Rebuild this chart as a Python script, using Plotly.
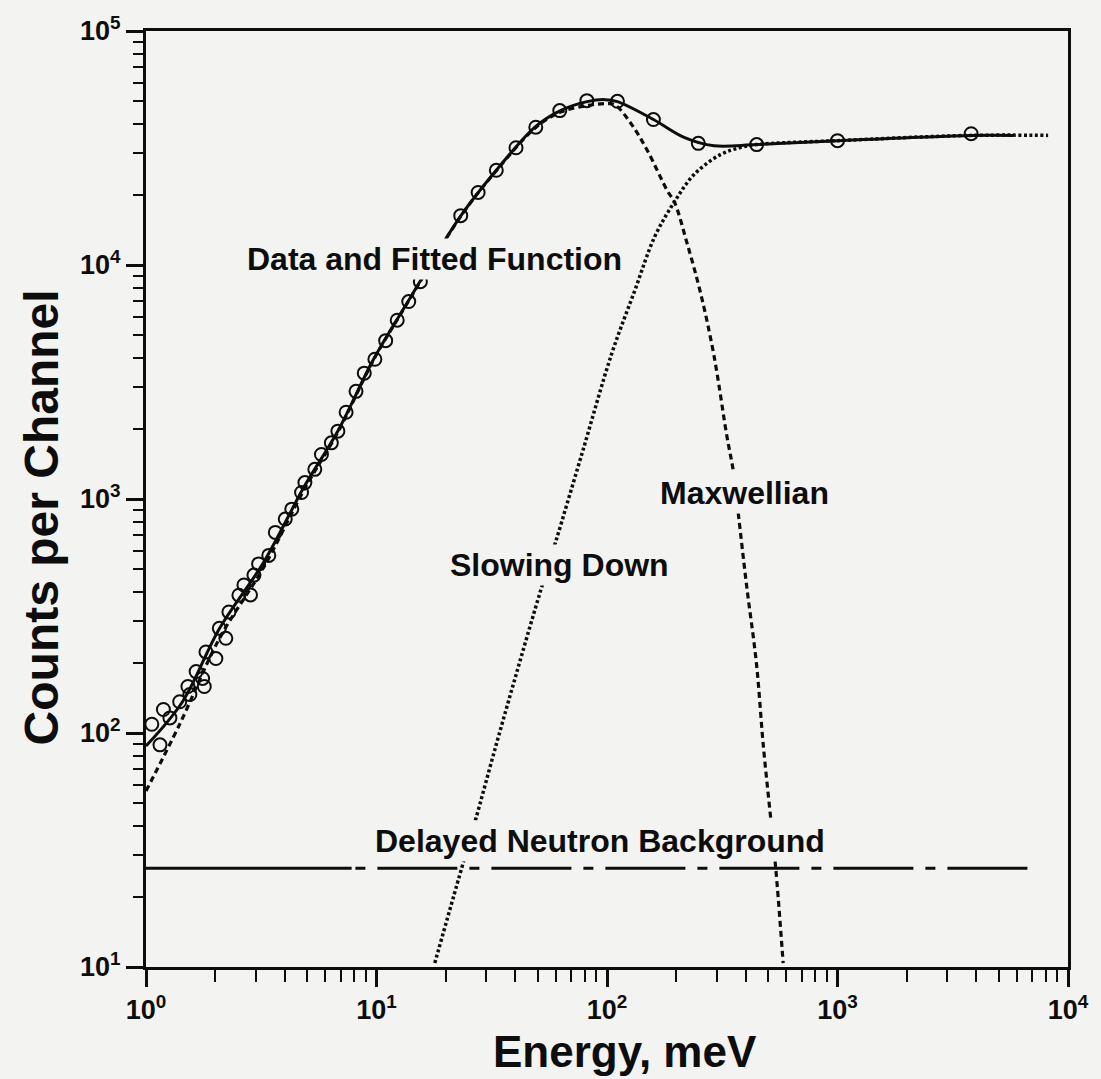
import plotly.graph_objects as go

# ---- measured spectrum (energy in meV, counts per channel) ----
data_energy = [1.06, 1.15, 1.19, 1.27, 1.40, 1.52, 1.55, 1.65, 1.76, 1.79, 1.82, 2.01,
               2.08, 2.22, 2.29, 2.53, 2.66, 2.84, 2.94, 3.08, 3.41, 3.64, 4.02, 4.29,
               4.73, 4.89, 5.40, 5.77, 6.37, 6.80, 7.38, 8.15, 8.85, 9.84, 10.96, 12.3,
               13.8, 15.5, 23.2, 27.6, 33.1, 40.3, 49.1, 62.4, 81.8, 111, 159, 249,
               446, 1000, 3800]
data_counts = [109, 89, 126, 116, 136, 158, 146, 183, 171, 158, 222, 208,
               280, 254, 329, 388, 429, 389, 473, 528, 574, 720, 821, 905,
               1066, 1175, 1339, 1550, 1738, 1950, 2348, 2884, 3450, 3956, 4750, 5810,
               6980, 8490, 16250, 20420, 25400, 31700, 38800, 45700, 50400, 50060, 41850, 33100,
               32700, 34000, 36400]

# ---- fitted total ----
fit_energy = [1.0, 1.44, 2.08, 3.24, 4.86, 6.80, 9.71, 13.7, 23.2, 33.1, 49.1, 62.8,
              82, 98, 111, 159, 216, 291, 445, 1000, 3800, 5800]
fit_counts = [88, 136, 279, 537, 1130, 1954, 3956, 6980, 16200, 25400, 39100, 45700,
              49900, 50900, 49900, 41850, 35100, 32300, 32700, 34000, 35800, 35800]

# ---- Maxwellian component ----
maxw_energy = [1.0, 1.40, 2.08, 3.24, 4.86, 6.80, 9.71, 13.7, 23.2, 33.1, 49.1, 62.8,
               82, 98, 108, 128, 150, 183, 196, 223, 255, 291, 331, 354, 372, 403,
               445, 476, 516, 542, 581]
maxw_counts = [56.5, 109, 253, 511, 1100, 1930, 3930, 6950, 16150, 25300, 38700, 45000,
               48000, 48900, 48400, 39800, 30700, 20700, 18600, 12300, 7550, 4110, 1862,
               1297, 851, 429, 198, 89.5, 40.9, 25.1, 10.4]

# ---- slowing-down component ----
slow_energy = [17.9, 23.4, 26.6, 33.1, 41.5, 51.6, 59.8, 78.1, 105, 132, 161, 196,
               239, 312, 380, 445, 1000, 3800, 8200]
slow_counts = [10.4, 26.4, 40.9, 89.5, 196, 408, 653, 1578, 4200, 7780, 13200, 18600,
               24400, 29700, 31800, 32700, 34000, 35800, 35800]

# ---- delayed neutron background ----
bg_level = 26.4
bg_solid_energy = [1.0, 7.8]
bg_dash_energy = [8.1, 7080]

# ---- axis ticks ----
decades = [1, 10, 100, 1000, 10000]
x_tick_text = ["10<sup>0</sup>", "10<sup>1</sup>", "10<sup>2</sup>", "10<sup>3</sup>", "10<sup>4</sup>"]
y_decades = [10, 100, 1000, 10000, 100000]
y_tick_text = ["10<sup>1</sup>", "10<sup>2</sup>", "10<sup>3</sup>", "10<sup>4</sup>", "10<sup>5</sup>"]

PAPER = "#f3f3f1"
INK = "#0d0d0d"
FONT = "Liberation Sans"

W, H = 1101, 1079
L, R, T, B = 146, 24, 26, 112
pw, ph = W - L - R, H - T - B


def to_paper(px, py):
    """Page pixel position -> paper fraction of the plot area."""
    return (px - L) / pw, 1 - (py - T) / ph


x_minor = [m * d for d in decades[:-1] for m in range(2, 10)]
y_minor = [m * d for d in y_decades[:-1] for m in range(2, 10)]

fig = go.Figure()

fig.add_trace(go.Scatter(x=bg_solid_energy, y=[bg_level, bg_level],
                         mode="lines", line=dict(color=INK, width=3), hoverinfo="skip"))
fig.add_trace(go.Scatter(x=bg_dash_energy, y=[bg_level, bg_level], mode="lines",
                         line=dict(color=INK, width=3, dash="10px,12px,80px,12px"),
                         hoverinfo="skip"))
fig.add_trace(go.Scatter(x=maxw_energy, y=maxw_counts, mode="lines",
                         line=dict(color=INK, width=3.2, dash="6px,4px", shape="spline"),
                         hoverinfo="skip"))
fig.add_trace(go.Scatter(x=slow_energy, y=slow_counts, mode="lines",
                         line=dict(color=INK, width=3.5, dash="3px,2.5px", shape="spline"),
                         hoverinfo="skip"))
fig.add_trace(go.Scatter(x=fit_energy, y=fit_counts, mode="lines",
                         line=dict(color=INK, width=3, shape="spline"), hoverinfo="skip"))
fig.add_trace(go.Scatter(x=data_energy, y=data_counts, mode="markers",
                         marker=dict(symbol="circle-open", size=13, color=INK,
                                     line=dict(width=2, color=INK)),
                         hoverinfo="skip"))

label_font = dict(family=FONT, size=32, color=INK, weight="bold")
labels = [
    ("Data and Fitted Function", 437, 255),
    ("Maxwellian", 750, 490),
    ("Slowing Down", 564, 563),
    ("Delayed Neutron Background", 604, 840),
]
for text, px, py in labels:
    ax, ay = to_paper(px, py)
    fig.add_annotation(text=text, x=ax, y=ay, xref="paper", yref="paper",
                       showarrow=False, font=label_font, bgcolor=PAPER, borderpad=2,
                       xanchor="center", yanchor="middle")

tx, ty = to_paper(40, 515)
fig.add_annotation(text="Counts per Channel", x=tx, y=ty, xref="paper", yref="paper",
                   showarrow=False, textangle=-90,
                   font=dict(family=FONT, size=48, color=INK, weight="bold"),
                   xanchor="center", yanchor="middle")
tx, ty = to_paper(630, 1052)
fig.add_annotation(text="Energy, meV", x=tx, y=ty, xref="paper", yref="paper",
                   showarrow=False,
                   font=dict(family=FONT, size=44, color=INK, weight="bold"),
                   xanchor="center", yanchor="middle")

axis_common = dict(showline=True, linecolor=INK, linewidth=3, mirror=True,
                   showgrid=False, zeroline=False, ticks="outside", ticklen=17,
                   tickwidth=2.5, tickcolor=INK,
                   tickfont=dict(family=FONT, size=27, color=INK, weight="bold"))

fig.update_layout(
    width=W, height=H,
    margin=dict(l=L, r=R, t=T, b=B),
    paper_bgcolor=PAPER, plot_bgcolor=PAPER,
    showlegend=False,
    xaxis=dict(type="log", range=[0, 4], tickmode="array", tickvals=decades,
               ticktext=x_tick_text,
               minor=dict(ticks="outside", ticklen=12, tickwidth=2, tickcolor=INK,
                          tickmode="array", tickvals=x_minor, showgrid=False),
               **axis_common),
    yaxis=dict(type="log", range=[1, 5], tickmode="array", tickvals=y_decades,
               ticktext=y_tick_text,
               minor=dict(ticks="outside", ticklen=10, tickwidth=2, tickcolor=INK,
                          tickmode="array", tickvals=y_minor, showgrid=False),
               **axis_common),
)

fig.write_html("out.html")
